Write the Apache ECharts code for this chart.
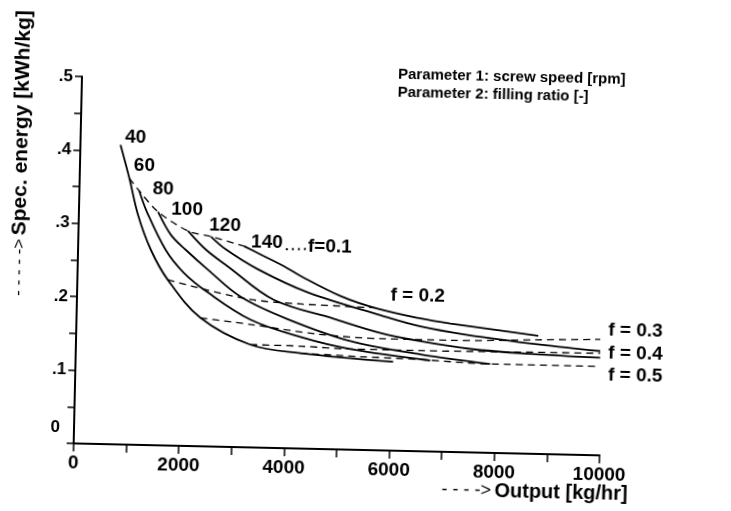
<!DOCTYPE html>
<html><head><meta charset="utf-8">
<script src="https://cdn.jsdelivr.net/npm/echarts@6/dist/echarts.min.js"></script>
<style>
html,body{margin:0;padding:0;background:#fff;overflow:hidden;}
#c{width:731px;height:511px;transform:rotate(1.3deg);transform-origin:365.5px 255.5px;}
</style>
</head><body><div id="c"></div>
<script>
// ---- data ----
const speedNames = ['40','60','80','100','120','140'];
const curve40  = [[762,0.408],[944,0.363],[1126,0.313],[1384,0.266],[1716,0.226],[2355,0.175],[3315,0.140],[4267,0.130],[6037,0.121]];
const curve60  = [[1138,0.346],[1296,0.317],[1669,0.266],[2018,0.236],[2480,0.210],[3307,0.174],[4262,0.152],[5216,0.137],[6740,0.124]];
const curve80  = [[1505,0.318],[1760,0.287],[2049,0.267],[2473,0.241],[3109,0.205],[4010,0.176],[5214,0.148],[6548,0.132],[7881,0.121]];
const curve100 = [[2081,0.293],[2429,0.268],[2852,0.246],[3738,0.202],[4884,0.178],[5781,0.160],[6544,0.150],[7496,0.141],[8638,0.136],[9970,0.133]];
const curve120 = [[2520,0.286],[2809,0.269],[3424,0.243],[4381,0.213],[5776,0.184],[6540,0.170],[7435,0.160],[8825,0.149],[9968,0.142]];
const curve140 = [[3151,0.274],[3477,0.263],[3917,0.248],[4243,0.235],[5010,0.209],[5717,0.193],[6537,0.181],[7108,0.175],[8784,0.161]];
const speedCurves = [curve40, curve60, curve80, curve100, curve120, curve140];

const fNames = ['f=0.1','f = 0.2','f = 0.3','f = 0.4','f = 0.5'];
const f01 = [[944,0.363],[1138,0.346],[1505,0.318],[2081,0.293],[2520,0.286],[3151,0.274]];
const f02 = [[1716,0.226],[2289,0.216],[3301,0.2015],[4252,0.197],[5735,0.194]];
const f03 = [[2355,0.175],[3308,0.1675],[4584,0.1565],[5840,0.152],[7114,0.152],[8786,0.1555],[9965,0.158]];
const f04 = [[3315,0.140],[4265,0.1395],[5216,0.137],[6547,0.137],[8067,0.138],[9969,0.139]];
const f05 = [[4267,0.130],[5409,0.127],[6550,0.125],[7881,0.121],[9973,0.121]];
const fLines = [f01, f02, f03, f04, f05];
const f01Dots = [[3950,0.271],[4330,0.272]];

// label anchors (data coordinates)
const speedLabelAt = [[1045,0.419],[1225,0.381],[1593,0.349],[2056,0.322],[2783,0.301],[3587,0.280]];
const fLabelAt = [[4367,0.275],[5960,0.211],[10114,0.1705],[10121,0.139],[10128,0.109]];

const xTickLabels = ['0','2000','4000','6000','8000','10000'];
const yTickLabels = ['0','.1','.2','.3','.4','.5'];

// ---- chart ----
const FONT = '"Liberation Sans", Arial, Helvetica, sans-serif';
const chart = echarts.init(document.getElementById('c'), null, {renderer:'canvas'});
const series = [];
speedCurves.forEach((d,i)=>series.push({
  type:'line', name:'n'+speedNames[i], data:d, smooth:0.35, symbol:'none', silent:true,
  lineStyle:{color:'#000', width:1.8}, z:3
}));
fLines.forEach((d,i)=>series.push({
  type:'line', name:fNames[i], data:d, smooth:0.3, symbol:'none', silent:true,
  lineStyle:{color:'#000', width:1.3, type:[7,5]}, z:2
}));
series.push({type:'line', data:f01Dots, symbol:'none', silent:true, lineStyle:{color:'#000', width:2, type:[2,4]}});
const labelStyle = {show:true, position:[0,0], verticalAlign:'middle', formatter:p=>p.name,
    color:'#000', opacity:1, fontFamily:FONT, fontWeight:'bold', fontSize:19};
series.push({
  type:'scatter', symbolSize:0, clip:false, silent:true, itemStyle:{opacity:1},
  data: speedLabelAt.map((p,i)=>({name:speedNames[i], value:p})),
  label:Object.assign({}, labelStyle, {align:'center'})
});
series.push({
  type:'scatter', symbolSize:0, clip:false, silent:true, itemStyle:{opacity:1},
  data: fLabelAt.map((p,i)=>({name:fNames[i], value:p})),
  label:Object.assign({}, labelStyle, {align:'left'})
});

chart.setOption({
  animation:false,
  backgroundColor:'#fff',
  grid:{left:78, top:83, width:526, height:367, containLabel:false, outerBoundsMode:'none'},
  xAxis:{
    type:'value', min:0, max:10000, interval:1000,
    axisLine:{show:true, lineStyle:{color:'#000', width:2}},
    axisTick:{show:true, length:8, lineStyle:{color:'#000', width:1.5}},
    splitLine:{show:false},
    axisLabel:{margin:10, color:'#000', fontFamily:FONT, fontWeight:'bold', fontSize:19,
      showMinLabel:true, showMaxLabel:true,
      formatter:v=>{const k=Math.round(v/2000); return (Math.abs(v-k*2000)<1)? xTickLabels[k] : '';}}
  },
  yAxis:{
    type:'value', min:0, max:0.5, interval:0.05,
    axisLine:{show:true, lineStyle:{color:'#000', width:2}},
    axisTick:{show:true, length:7, lineStyle:{color:'#000', width:1.5}},
    splitLine:{show:false},
    axisLabel:{margin:9, color:'#000', fontFamily:FONT, fontWeight:'bold', fontSize:17,
      showMinLabel:true, showMaxLabel:true,
      formatter:v=>{const k=Math.round(v*100); if(k%10!==0) return ''; const s=yTickLabels[k/10]; return k===0? '{z|'+s+'}' : s;},
      rich:{z:{padding:[0,5,32,0], color:'#000', fontFamily:FONT, fontWeight:'bold', fontSize:17}}
    }
  },
  graphic:[
    {type:'text', x:19, y:18, rotation:Math.PI/2, silent:true,
     style:{text:'{a|- - - - ->} {b|Spec. energy [kWh/kg]}', align:'right', verticalAlign:'middle', textAlign:'right', textVerticalAlign:'middle',
       rich:{a:{font:'normal 17px '+FONT, fill:'#000'}, b:{font:'bold 21px '+FONT, fill:'#000'}}}},
    {type:'text', x:394, y:74, silent:true,
     style:{text:'Parameter 1: screw speed [rpm]', font:'bold 15px '+FONT, fill:'#000', verticalAlign:'middle', textVerticalAlign:'middle'}},
    {type:'text', x:394, y:92, silent:true,
     style:{text:'Parameter 2: filling ratio [-]', font:'bold 15px '+FONT, fill:'#000', verticalAlign:'middle', textVerticalAlign:'middle'}},
    {type:'text', x:633, y:488, silent:true,
     style:{text:'{a|- - - ->} {b|Output [kg/hr]}', align:'right', verticalAlign:'middle', textAlign:'right', textVerticalAlign:'middle',
       rich:{a:{font:'normal 18px '+FONT, fill:'#000'}, b:{font:'bold 20px '+FONT, fill:'#000'}}}}
  ],
  series: series
});
</script></body></html>
